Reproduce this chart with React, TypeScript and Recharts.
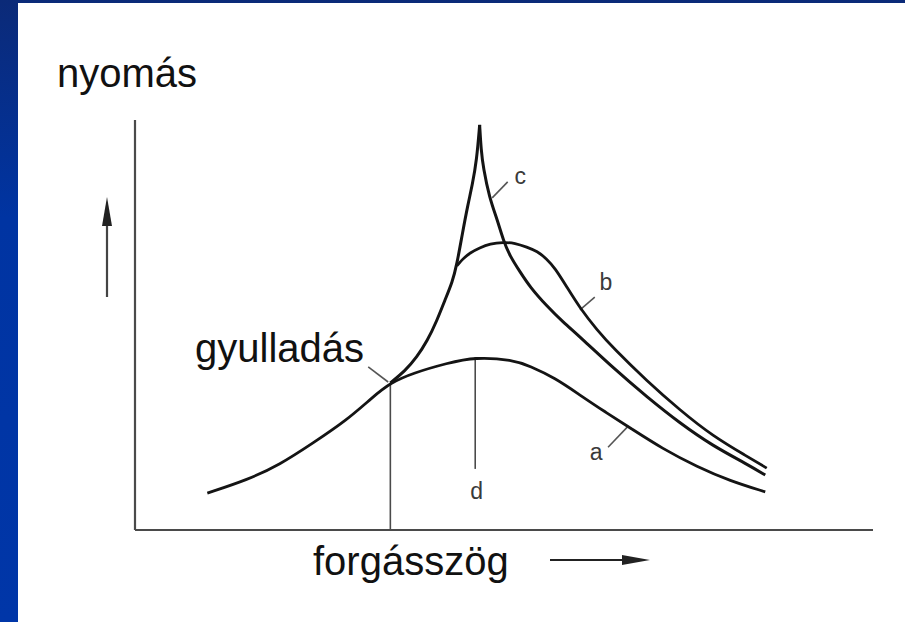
import { LineChart, Line, XAxis, YAxis, ReferenceLine, ReferenceDot } from 'recharts';

// crank angle (x) and cylinder pressure (y), both in relative units 0..100
const curveA = [
    { x: 9.8, y: 9.0 }, { x: 15.2, y: 12.2 }, { x: 19.6, y: 15.9 }, { x: 24.1, y: 21.2 },
    { x: 28.7, y: 26.8 }, { x: 32.2, y: 32.4 }, { x: 34.6, y: 35.9 }, { x: 37.7, y: 38.3 },
    { x: 42.3, y: 40.7 }, { x: 46.1, y: 42.2 }, { x: 51.2, y: 41.5 }, { x: 53.5, y: 40.0 },
    { x: 56.9, y: 37.1 }, { x: 60.3, y: 32.9 }, { x: 63.7, y: 28.8 }, { x: 67.1, y: 24.9 },
    { x: 71.5, y: 19.8 }, { x: 76.2, y: 15.4 }, { x: 80.6, y: 12.0 }, { x: 85.4, y: 9.3 },
];

// knocking combustion: rising branch and falling branch meet in a sharp peak
const curveCRise = [
    { x: 34.6, y: 35.9 }, { x: 36.6, y: 38.8 }, { x: 38.2, y: 42.2 }, { x: 39.6, y: 46.1 },
    { x: 40.9, y: 51.0 }, { x: 42.0, y: 56.1 }, { x: 43.0, y: 60.5 }, { x: 43.6, y: 64.6 },
    { x: 44.4, y: 72.7 }, { x: 45.1, y: 79.3 }, { x: 45.7, y: 84.1 }, { x: 46.3, y: 90.2 },
    { x: 46.7, y: 98.8 },
];

const curveCFall = [
    { x: 46.7, y: 98.8 }, { x: 46.9, y: 92.7 }, { x: 47.2, y: 88.3 }, { x: 48.0, y: 81.2 },
    { x: 49.1, y: 75.6 }, { x: 49.9, y: 70.7 }, { x: 50.8, y: 66.8 }, { x: 52.2, y: 62.9 },
    { x: 53.5, y: 59.3 }, { x: 55.8, y: 54.6 }, { x: 58.0, y: 50.7 }, { x: 60.3, y: 47.1 },
    { x: 64.8, y: 39.5 }, { x: 69.4, y: 32.4 }, { x: 73.8, y: 26.1 }, { x: 78.3, y: 20.5 },
    { x: 82.9, y: 16.1 }, { x: 85.4, y: 13.4 },
];

// normal combustion, branching off the rising branch of c
const curveB = [
    { x: 43.6, y: 64.4 }, { x: 44.4, y: 66.1 }, { x: 45.4, y: 67.6 }, { x: 46.7, y: 68.8 },
    { x: 48.1, y: 69.8 }, { x: 49.9, y: 70.2 }, { x: 51.5, y: 70.0 }, { x: 53.1, y: 69.0 },
    { x: 54.5, y: 68.0 }, { x: 55.8, y: 66.1 }, { x: 56.9, y: 63.9 }, { x: 58.5, y: 59.3 },
    { x: 60.3, y: 54.1 }, { x: 62.6, y: 48.8 }, { x: 64.8, y: 44.4 }, { x: 69.4, y: 36.3 },
    { x: 73.8, y: 29.3 }, { x: 78.3, y: 22.9 }, { x: 82.9, y: 18.0 }, { x: 85.6, y: 15.1 },
];

const ignition = { x: 34.6, y: 35.9 };
const topDeadCentre = { x: 46.1, y: 42.2, yEnd: 14.9 };

// short leader lines from the letters to their curves
const leaders = [
    { id: 'gy', from: { x: 31.6, y: 39.8 }, to: { x: 34.3, y: 36.1 } },
    { id: 'c', from: { x: 48.4, y: 81.0 }, to: { x: 50.5, y: 84.9 } },
    { id: 'b', from: { x: 60.3, y: 53.7 }, to: { x: 62.3, y: 56.8 } },
    { id: 'a', from: { x: 66.7, y: 25.1 }, to: { x: 64.1, y: 20.2 } },
];

const letterLabels = [
    { text: 'c', x: 52.2, y: 86.3 },
    { text: 'b', x: 63.8, y: 60.5 },
    { text: 'a', x: 62.5, y: 19.0 },
    { text: 'd', x: 46.3, y: 9.5 },
];

const INK = '#141414';
const AXIS = '#4a4a4a';
const FONT = '"Liberation Sans", Arial, sans-serif';

export default function App() {
    return (
        <div
            style={{
                position: 'absolute',
                left: 0,
                top: 0,
                width: 905,
                height: 622,
                background: 'linear-gradient(to bottom, #0b2a78 0%, #0034a2 35%, #0036a8 100%)',
                overflow: 'hidden',
            }}
        >
            <div style={{ position: 'absolute', left: 18, top: 3, right: 0, bottom: 0, background: '#fff' }} />
            <div style={{ position: 'absolute', left: 0, top: 0 }}>
                <LineChart width={905} height={622} margin={{ top: 120, right: 32, bottom: 92, left: 135 }}>
                    <XAxis type="number" dataKey="x" domain={[0, 100]} hide allowDataOverflow />
                    <YAxis type="number" dataKey="y" domain={[0, 100]} hide allowDataOverflow />
                    {/* axes */}
                    <ReferenceLine y={0} stroke={AXIS} strokeWidth={2.2} ifOverflow="visible" />
                    <ReferenceLine x={0} stroke={AXIS} strokeWidth={2.2} ifOverflow="visible" />
                    <ReferenceLine
                        segment={[{ x: ignition.x, y: 0 }, { x: ignition.x, y: ignition.y }]}
                        stroke={AXIS}
                        strokeWidth={1.6}
                    />
                    <ReferenceLine
                        segment={[
                            { x: topDeadCentre.x, y: topDeadCentre.y },
                            { x: topDeadCentre.x, y: topDeadCentre.yEnd },
                        ]}
                        stroke={AXIS}
                        strokeWidth={1.6}
                    />
                    {leaders.map((l) => (
                        <ReferenceLine
                            key={l.id}
                            segment={[l.from, l.to]}
                            stroke="#555"
                            strokeWidth={1.6}
                        />
                    ))}
                    <Line data={curveA} dataKey="y" type="basis" stroke={INK} strokeWidth={2.8} dot={false} isAnimationActive={false} />
                    <Line data={curveB} dataKey="y" type="basis" stroke={INK} strokeWidth={2.8} dot={false} isAnimationActive={false} />
                    <Line data={curveCRise} dataKey="y" type="basis" stroke={INK} strokeWidth={3} dot={false} isAnimationActive={false} />
                    <Line data={curveCFall} dataKey="y" type="basis" stroke={INK} strokeWidth={3} dot={false} isAnimationActive={false} />
                    {letterLabels.map((l) => (
                        <ReferenceDot
                            key={l.text}
                            x={l.x}
                            y={l.y}
                            r={1}
                            fill="none"
                            stroke="none"
                            label={{ value: l.text, position: 'center', fill: '#3a3a3a', fontSize: 23, fontFamily: FONT }}
                        />
                    ))}
                </LineChart>
            </div>
            <svg
                width={905}
                height={622}
                style={{ position: 'absolute', left: 0, top: 0, pointerEvents: 'none' }}
            >
                <text x={57} y={87} fontFamily={FONT} fontSize={40} fill="#111">nyomás</text>
                <text x={195} y={362} fontFamily={FONT} fontSize={40} fill="#111">gyulladás</text>
                <text x={313} y={575} fontFamily={FONT} fontSize={40} fill="#111">forgásszög</text>
                {/* pressure arrow */}
                <line x1={107} y1={297} x2={107} y2={215} stroke="#444" strokeWidth={2.2} />
                <polygon points="102,226 107,197 112,226" fill="#222" />
                {/* crank angle arrow */}
                <line x1={550} y1={560} x2={632} y2={560} stroke="#222" strokeWidth={2} />
                <polygon points="622,555 650,560 622,565" fill="#222" />
            </svg>
        </div>
    );
}
